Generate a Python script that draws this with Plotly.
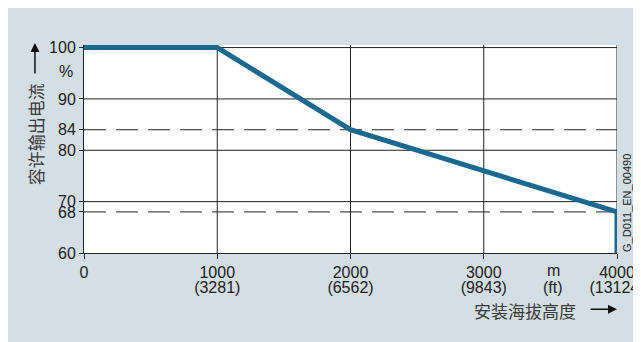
import plotly.graph_objects as go

# derating curve: installation altitude (m) vs permissible output current (%)
altitude_m = [0, 1000, 2000, 4000, 4000]
current_pct = [100, 100, 84, 68, 60]

x_tickvals = [0, 1000, 2000, 3000, 4000]
x_ticktext_m = ["0", "1000", "2000", "3000", "4000"]
x_ticktext_ft = ["", "(3281)", "(6562)", "(9843)", "(13124)"]
y_tickvals = [60, 68, 70, 80, 84, 90, 100]

grid_x = [1000, 2000, 3000, 4000]
grid_y = [70, 80, 90, 100]
dashed_y = [84, 68]

BG = "#d4dee5"
LINE = "#1b6990"
FONT = "Liberation Sans, Arial, sans-serif"
CJK = "Noto Sans CJK SC"

fig = go.Figure()

fig.add_trace(go.Scatter(
    x=altitude_m, y=current_pct,
    mode="lines",
    line=dict(color=LINE, width=5),
    hoverinfo="skip",
    showlegend=False,
))
# invisible trace so the second (feet) x axis gets drawn
fig.add_trace(go.Scatter(
    x=altitude_m, y=current_pct, xaxis="x2",
    mode="lines", line=dict(color="rgba(0,0,0,0)", width=0),
    hoverinfo="skip", showlegend=False,
))

# grid and reference lines
for gx in grid_x:
    fig.add_vline(x=gx, line=dict(color="#222", width=1), layer="below")
for gy in grid_y:
    fig.add_hline(y=gy, line=dict(color="#222", width=1), layer="below")
for dy in dashed_y:
    fig.add_hline(y=dy, line=dict(color="#222", width=1, dash="22px,10px"), layer="below")

tickfont = dict(family=FONT, size=16, color="#222")

fig.update_layout(
    xaxis=dict(
        range=[0, 4000], automargin=False, ticklabeloverflow="allow",
        tickmode="array", tickvals=x_tickvals, ticktext=x_ticktext_m,
        showgrid=False, zeroline=False,
        showline=True, linecolor="#222", linewidth=1,
        ticks="outside", ticklen=5, tickcolor="#222",
        tickfont=tickfont,
    ),
    xaxis2=dict(
        range=[0, 4000], overlaying="x", anchor="y", side="bottom",
        automargin=False, ticklabeloverflow="allow",
        tickmode="array", tickvals=x_tickvals, ticktext=x_ticktext_ft,
        showgrid=False, zeroline=False, showline=False,
        ticks="", ticklabelstandoff=23,
        tickfont=tickfont,
    ),
    yaxis=dict(
        range=[60, 100.5], automargin=False,
        tickmode="array", tickvals=y_tickvals,
        showgrid=False, zeroline=False,
        showline=True, linecolor="#222", linewidth=1,
        ticks="outside", ticklen=4, tickcolor="#222",
        tickfont=tickfont,
    ),
)

annotations = [
    dict(text="容许输出电流", x=-0.092, y=0.571, textangle=-90,
         font=dict(family=CJK, size=17, color="#3a3a3a")),
    dict(text="%", x=-0.034, y=0.871, font=dict(family=FONT, size=16, color="#222")),
    dict(text="m", x=0.88, y=-0.084, font=dict(family=FONT, size=16, color="#222")),
    dict(text="(ft)", x=0.88, y=-0.166, font=dict(family=FONT, size=16, color="#222")),
    dict(text="安装海拔高度", x=0.8265, y=-0.276,
         font=dict(family=CJK, size=17, color="#3a3a3a")),
    dict(text="G_D011_EN_00490", x=1.0175, y=0.242, textangle=-90,
         font=dict(family=FONT, size=11, color="#222")),
    # axis arrows
    dict(text="", x=-0.092, y=1.0096, showarrow=True, ax=0, ay=32,
         arrowhead=2, arrowsize=1.2, arrowwidth=1.5, arrowcolor="#111"),
    dict(text="", x=1.0, y=-0.271, showarrow=True, ax=-28, ay=0,
         arrowhead=2, arrowsize=1.2, arrowwidth=1.5, arrowcolor="#111"),
]
for a in annotations:
    a.setdefault("showarrow", False)
    a.update(xref="paper", yref="paper", xanchor="center", yanchor="middle")

fig.update_layout(
    width=641, height=342,
    margin=dict(l=76, r=32, t=37, b=96.5),
    paper_bgcolor=BG,
    plot_bgcolor="white",
    annotations=annotations,
)

fig.write_html("out.html")
